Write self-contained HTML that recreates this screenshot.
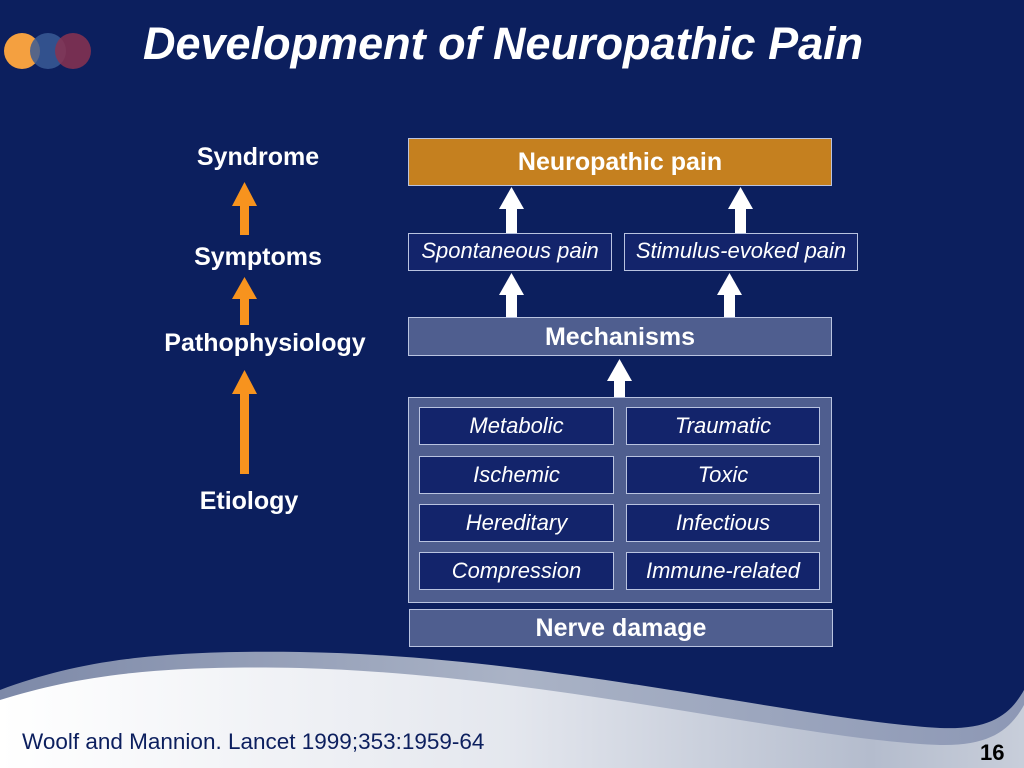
<!DOCTYPE html>
<html><head><style>
body{margin:0;width:1024px;height:768px;overflow:hidden;background:#0c1f5e;font-family:"Liberation Sans",sans-serif;position:relative}
.a{position:absolute;box-sizing:border-box;display:flex;align-items:center;justify-content:center;color:#fff;white-space:nowrap}
.b{border:1.5px solid #b9c3e0}
.d{background:#13246b;font-style:italic;font-size:22px}
.m{background:#4f5e8f}
.l{position:absolute;color:#fff;font-weight:bold;font-size:25px;text-align:center;width:260px}
</style></head><body>
<svg width="1024" height="768" style="position:absolute;left:0;top:0">
<defs>
<linearGradient id="g" x1="0" y1="0" x2="1" y2="0"><stop offset="0" stop-color="#ffffff"/><stop offset="0.5" stop-color="#e4e7ee"/><stop offset="0.85" stop-color="#b4bccd"/><stop offset="1" stop-color="#c8ceda"/></linearGradient>
<linearGradient id="g2" x1="0" y1="0" x2="1" y2="0"><stop offset="0" stop-color="#7d89a8"/><stop offset="0.5" stop-color="#aab3c6"/><stop offset="1" stop-color="#8d98b5"/></linearGradient>
</defs>
<path d="M0 690 C80 660 160 650 300 652 C550 656 800 720 940 728 C990 730 1010 715 1024 690 L1024 768 L0 768 Z" fill="url(#g2)"/>
<path d="M0 700 C80 675 160 665 300 668 C550 675 800 740 940 745 C990 746 1010 730 1024 705 L1024 768 L0 768 Z" fill="url(#g)"/>
<g fill="#f7931e">
<rect x="240" y="205" width="9" height="30"/><polygon points="232,206 257,206 244.5,182"/>
<rect x="240" y="298" width="9" height="27"/><polygon points="232,299 257,299 244.5,277"/>
<rect x="240" y="393" width="9" height="81"/><polygon points="232,394 257,394 244.5,370"/>
</g>
<g fill="#fff">
<rect x="506" y="208" width="11" height="25"/><polygon points="499,209 524,209 511.5,187"/>
<rect x="735" y="208" width="11" height="25"/><polygon points="728,209 753,209 740.5,187"/>
<rect x="506" y="294" width="11" height="23"/><polygon points="499,295 524,295 511.5,273"/>
<rect x="724" y="294" width="11" height="23"/><polygon points="717,295 742,295 729.5,273"/>
<rect x="614" y="380" width="11" height="17"/><polygon points="607,381 632,381 619.5,359"/>
</g>
<circle cx="22" cy="51" r="18" fill="#f4a040"/>
<circle cx="48" cy="51" r="18" fill="#3a5a95" opacity="0.85"/>
<circle cx="73" cy="51" r="18" fill="#8a3350" opacity="0.85"/>
</svg>
<div style="position:absolute;left:143px;top:18px;color:#fff;font-weight:bold;font-style:italic;font-size:45px;white-space:nowrap">Development of Neuropathic Pain</div>
<div class="l" style="left:128px;top:143px">Syndrome</div>
<div class="l" style="left:128px;top:243px">Symptoms</div>
<div class="l" style="left:135px;top:329px">Pathophysiology</div>
<div class="l" style="left:119px;top:487px">Etiology</div>
<div class="a b" style="left:408px;top:138px;width:424px;height:48px;background:#c5801f;font-weight:bold;font-size:25px">Neuropathic pain</div>
<div class="a b d" style="left:408px;top:233px;width:204px;height:38px;align-items:flex-start;padding-top:4px">Spontaneous pain</div>
<div class="a b d" style="left:624px;top:233px;width:234px;height:38px;align-items:flex-start;padding-top:4px">Stimulus-evoked pain</div>
<div class="a b m" style="left:408px;top:317px;width:424px;height:39px;font-weight:bold;font-size:25px;align-items:flex-start;padding-top:5px">Mechanisms</div>
<div class="a b m" style="left:408px;top:397px;width:424px;height:206px"></div>
<div class="a b d" style="left:419px;top:407px;width:195px;height:38px">Metabolic</div>
<div class="a b d" style="left:626px;top:407px;width:194px;height:38px">Traumatic</div>
<div class="a b d" style="left:419px;top:456px;width:195px;height:38px">Ischemic</div>
<div class="a b d" style="left:626px;top:456px;width:194px;height:38px">Toxic</div>
<div class="a b d" style="left:419px;top:504px;width:195px;height:38px">Hereditary</div>
<div class="a b d" style="left:626px;top:504px;width:194px;height:38px">Infectious</div>
<div class="a b d" style="left:419px;top:552px;width:195px;height:38px">Compression</div>
<div class="a b d" style="left:626px;top:552px;width:194px;height:38px">Immune-related</div>
<div class="a b m" style="left:409px;top:609px;width:424px;height:38px;font-weight:bold;font-size:25px">Nerve damage</div>
<div style="position:absolute;left:22px;top:729px;color:#0c1f5e;font-size:22.5px;white-space:nowrap">Woolf and Mannion. Lancet 1999;353:1959-64</div>
<div style="position:absolute;left:980px;top:740px;color:#000;font-weight:bold;font-size:22px">16</div>
</body></html>
